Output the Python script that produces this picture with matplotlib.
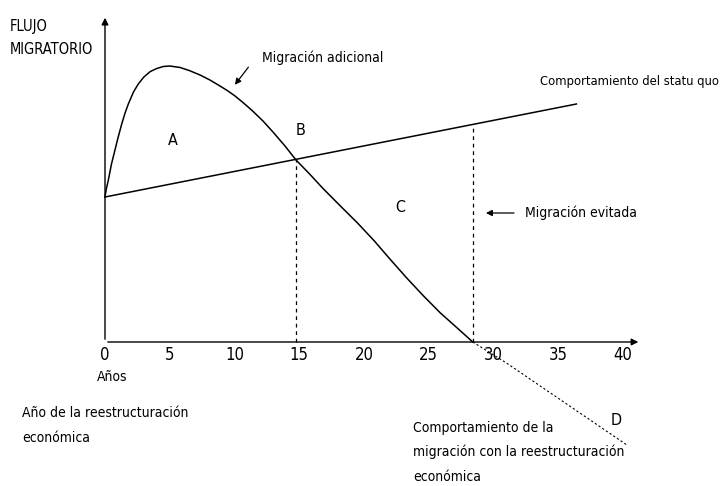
import numpy as np
import matplotlib
matplotlib.use('Agg')
import matplotlib.pyplot as plt

plt.rcParams['font.family'] = ['Liberation Sans Narrow', 'DejaVu Sans']
plt.rcParams['font.stretch'] = 'condensed'
plt.rcParams['font.size'] = 10

# curve (years, flow)
years = [0, 0.1, 0.26, 0.5, 0.77, 1.0, 1.29, 1.55, 1.8, 2.2, 2.57, 3.0, 3.5,
         4.0, 4.5, 5.0, 5.8, 6.5, 7.34, 8.1, 8.88, 9.5, 10.04, 10.7, 11.4,
         12.2, 12.97, 13.9, 14.75, 15.8, 16.8, 18.1, 19.5, 20.8, 22.0, 23.3,
         24.6, 25.9, 27.2, 28.4]
flow = [14.5, 15.3, 16.2, 17.8, 19.2, 20.4, 21.8, 22.9, 23.8, 25.0, 25.8, 26.5,
        27.05, 27.35, 27.55, 27.6, 27.45, 27.15, 26.7, 26.2, 25.6, 25.1, 24.6,
        23.9, 23.1, 22.1, 21.0, 19.6, 18.2, 16.8, 15.4, 13.7, 11.9, 10.1, 8.3,
        6.4, 4.6, 2.9, 1.4, 0]

# continuation below the axis (dotted)
ext_years = [28.4, 31.0, 40.3]
ext_flow = [0, -2.1, -10.3]

# statu quo line
sq_years = [0, 36.4]
sq_flow = [14.5, 23.8]

cross_year = 14.75
avoided_year = 28.4

ticks = [0, 5, 10, 15, 20, 25, 30, 35, 40]

fig = plt.figure(figsize=(7.28, 4.86), dpi=100)
ax = fig.add_axes([0, 0, 1, 1])
ax.set_xlim(-105 / 12.95, 623 / 12.95)
ax.set_ylim(-14.4, 34.2)
ax.axis('off')

# axes with arrows
arr = dict(arrowstyle='-|>', color='black', lw=1.0, mutation_scale=10)
ax.annotate('', xy=(41.4, 0), xytext=(0, 0), arrowprops=arr)
ax.annotate('', xy=(0, 32.7), xytext=(0, 0), arrowprops=arr)

ax.plot(years, flow, color='black', lw=1.1, solid_joinstyle='round')
ax.plot(ext_years, ext_flow, color='black', lw=0.8, linestyle=(0, (2, 2)))
ax.plot(sq_years, sq_flow, color='black', lw=1.1)

for yr in [cross_year, avoided_year]:
    top = np.interp(yr, sq_years, sq_flow)
    ax.plot([yr, yr], [0, top], color='black', lw=0.9, linestyle=(0, (3, 3)))

for t in ticks:
    ax.text(t, -1.3, str(t), ha='center', va='center', fontsize=12)

ax.text(-7.34, 31.6, 'FLUJO', ha='left', va='center', fontsize=10.5)
ax.text(-7.34, 29.3, 'MIGRATORIO', ha='left', va='center', fontsize=10.5)
ax.text(5.2, 20.2, 'A', ha='center', va='center', fontsize=11.5)
ax.text(15.1, 21.2, 'B', ha='center', va='center', fontsize=11.5)
ax.text(22.8, 13.5, 'C', ha='center', va='center', fontsize=11.5)
ax.text(39.5, -7.8, 'D', ha='center', va='center', fontsize=11.5)

ax.text(12.1, 28.4, 'Migración adicional', ha='left', va='center')
ax.annotate('', xy=(9.9, 25.5), xytext=(11.2, 27.7),
            arrowprops=dict(arrowstyle='-|>', color='black', lw=0.9, mutation_scale=9))

ax.text(33.6, 26.0, 'Comportamiento del statu quo', ha='left', va='center', fontsize=9.3)

ax.text(32.4, 12.9, 'Migración evitada', ha='left', va='center')
ax.annotate('', xy=(29.2, 12.9), xytext=(31.8, 12.9),
            arrowprops=dict(arrowstyle='-|>', color='black', lw=0.9, mutation_scale=9))

ax.text(0.54, -3.5, 'Años', ha='center', va='center')
ax.text(-6.4, -7.1, 'Año de la reestructuración', ha='left', va='center')
ax.text(-6.4, -9.6, 'económica', ha='left', va='center')

ax.text(23.8, -8.6, 'Comportamiento de la', ha='left', va='center')
ax.text(23.8, -11.0, 'migración con la reestructuración', ha='left', va='center')
ax.text(23.8, -13.5, 'económica', ha='left', va='center')

fig.savefig('out.png', dpi=100)
